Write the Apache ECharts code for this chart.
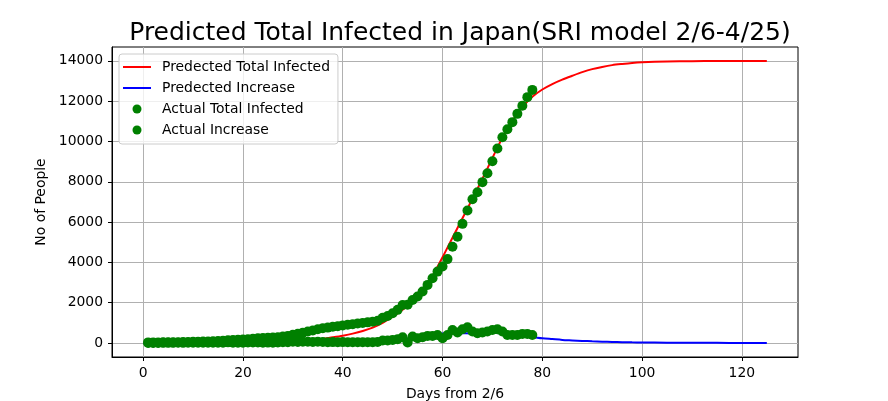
<!DOCTYPE html>
<html><head><meta charset="utf-8">
<script src="https://cdn.jsdelivr.net/npm/echarts@6/dist/echarts.min.js"></script>
<style>html,body{margin:0;padding:0;background:#fff}#c{width:888px;height:401px}</style>
</head><body><div id="c"></div>
<script>
// ---- data ----
const actualDays = [1,2,3,4,5,6,7,8,9,10,11,12,13,14,15,16,17,18,19,20,21,22,23,24,25,26,27,28,29,30,31,32,33,34,35,36,37,38,39,40,41,42,43,44,45,46,47,48,49,50,51,52,53,54,55,56,57,58,59,60,61,62,63,64,65,66,67,68,69,70,71,72,73,74,75,76,77,78];
const actualTotal = [25,25,26,28,30,33,38,41,45,53,59,66,73,84,93,105,132,144,156,164,186,210,230,239,254,268,284,317,348,407,454,510,568,619,680,725,760,800,830,870,900,930,960,990,1020,1050,1100,1250,1340,1470,1640,1880,1890,2130,2300,2550,2880,3210,3540,3790,4160,4770,5270,5910,6570,7135,7480,7980,8425,9020,9650,10210,10610,10960,11370,11770,12200,12560];
const actualIncrease = [0,0,1,2,2,3,5,3,4,8,6,7,7,11,9,12,27,12,12,8,22,24,20,9,15,14,16,33,31,59,47,56,58,51,61,45,35,40,30,40,30,30,30,30,30,30,50,116,116,150,182,281,20,314,232,281,348,348,397,232,397,645,513,679,778,563,480,513,563,645,679,563,397,397,397,447,447,397];
const predDays = [0,5,10,15,20,25,30,35,38,40,42,44,46,48,50,52,54,56,58,60,62,64,66,68,70,72,74,76,78,80,82,84,86,88,90,92,94,96,98,100,105,110,115,120,125];
const predTotal = [2,4,8,14,26,48,90,170,280,360,460,590,760,1000,1300,1650,2050,2610,3330,4250,5220,6190,7160,8150,9180,10180,11030,11710,12220,12580,12850,13070,13260,13440,13590,13700,13790,13850,13900,13930,13970,13985,13992,13996,13998];
const predIncrease = [0,0.4,0.8,1.5,3,5,10,18,30,40,50,65,85,120,160,190,230,300,380,470,490,480,470,500,510,470,390,330,290,230,190,150,125,100,80,62,48,37,28,22,11,5,2,1,0.5];
const xTicks = [0,20,40,60,80,100,120];
const yTicks = [0,2000,4000,6000,8000,10000,12000,14000];
const seriesNames = ['Predected Total Infected','Predected Increase','Actual Total Infected','Actual Increase'];
const titleText = 'Predicted Total Infected in Japan(SRI model 2/6-4/25)';
const xName = 'Days from 2/6';
const yName = 'No of People';

const pair = (xs, ys) => xs.map((x, i) => [x, ys[i]]);
const F = 'DejaVu Sans';
const chart = echarts.init(document.getElementById('c'), null, {renderer: 'canvas'});
const axisCommon = {
  type: 'value',
  axisLine: {show: true, onZero: false, lineStyle: {color: '#000', width: 1}},
  axisTick: {show: true, inside: false, length: 4, lineStyle: {color: '#000', width: 1}},
  splitLine: {show: true, lineStyle: {color: '#b0b0b0', width: 1}},
  nameTextStyle: {fontFamily: F, fontSize: 13.9, color: '#000'},
  nameLocation: 'middle'
};
chart.setOption({
  animation: false,
  backgroundColor: '#fff',
  title: {
    text: titleText, left: 455, top: 16, textAlign: 'center',
    textStyle: {fontFamily: F, fontSize: 25, fontWeight: 'normal', color: '#000'}
  },
  legend: {
    orient: 'vertical', left: 119, top: 54,
    itemWidth: 28, itemHeight: 9, itemGap: 7,
    padding: [6, 8, 7, 4],
    backgroundColor: 'rgba(255,255,255,0.8)', borderColor: '#cccccc', borderWidth: 1, borderRadius: 3,
    textStyle: {fontFamily: F, fontSize: 13.9, color: '#000', padding: [0, 0, 0, 6]},
    data: [
      {name: seriesNames[0], icon: 'path://M0,0L28,0L28,2L0,2Z'},
      {name: seriesNames[1], icon: 'path://M0,0L28,0L28,2L0,2Z'},
      {name: seriesNames[2], icon: 'circle'},
      {name: seriesNames[3], icon: 'circle'}
    ]
  },
  grid: {left: 112, right: 90, top: 47, bottom: 44, show: true, borderColor: '#000', borderWidth: 1,
         containLabel: false, outerBoundsMode: 'none'},
  xAxis: Object.assign({}, axisCommon, {
    min: -6.25, max: 131.25,
    name: xName, nameGap: 30,
    axisTick: Object.assign({}, axisCommon.axisTick, {customValues: xTicks}),
    axisLabel: {customValues: xTicks, fontFamily: F, fontSize: 13.9, color: '#000', margin: 9,
                formatter: v => String(v)}
  }),
  yAxis: Object.assign({}, axisCommon, {
    min: -699.5, max: 14689.5,
    name: yName, nameGap: 55,
    axisTick: Object.assign({}, axisCommon.axisTick, {customValues: yTicks}),
    axisLabel: {customValues: yTicks, fontFamily: F, fontSize: 13.9, color: '#000', margin: 9,
                formatter: v => String(v)}
  }),
  series: [
    {name: seriesNames[0], type: 'line', data: pair(predDays, predTotal), showSymbol: false, smooth: 0.3,
     lineStyle: {color: '#ff0000', width: 2}, itemStyle: {color: '#ff0000'}, z: 2},
    {name: seriesNames[1], type: 'line', data: pair(predDays, predIncrease), showSymbol: false, smooth: 0.3,
     lineStyle: {color: '#0000ff', width: 2}, itemStyle: {color: '#0000ff'}, z: 2},
    {name: seriesNames[2], type: 'scatter', data: pair(actualDays, actualTotal), symbol: 'circle', symbolSize: 10,
     itemStyle: {color: '#008000', opacity: 1}, z: 3},
    {name: seriesNames[3], type: 'scatter', data: pair(actualDays, actualIncrease), symbol: 'circle', symbolSize: 10,
     itemStyle: {color: '#008000', opacity: 1}, z: 3}
  ]
});
</script></body></html>
